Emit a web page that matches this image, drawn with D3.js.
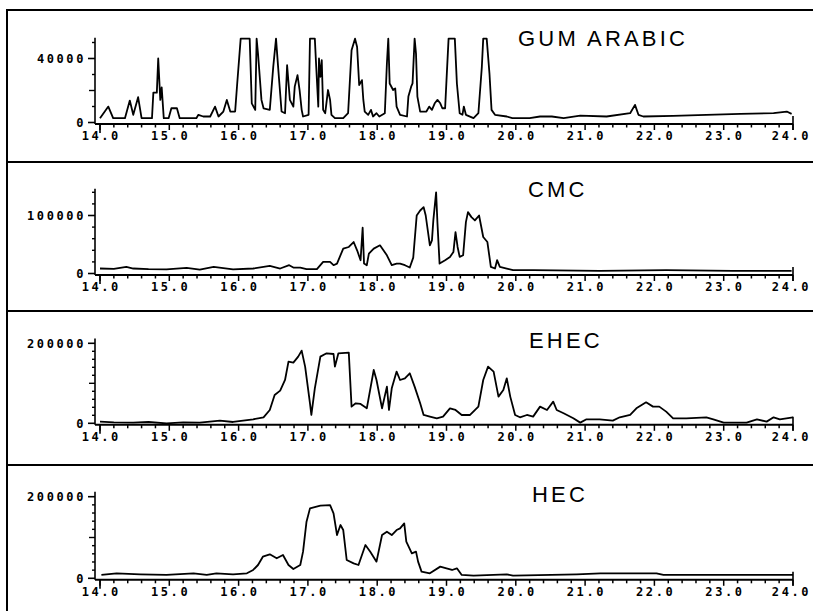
<!DOCTYPE html>
<html><head><meta charset="utf-8">
<script src="https://cdn.jsdelivr.net/npm/d3@7"></script>
<style>
html,body{margin:0;padding:0;background:#fff;}
svg{display:block;}
.tl{font-family:"DejaVu Sans Mono",monospace;font-weight:bold;font-size:12px;letter-spacing:2.6px;fill:#000;}
.tt{font-family:"Liberation Sans",Arial,sans-serif;font-size:22px;letter-spacing:3.2px;fill:#000;}
</style></head>
<body>
<svg id="c" width="813" height="611"></svg>
<script>
// ---------------- DATA ----------------
const titles = ["GUM ARABIC", "CMC", "EHEC", "HEC"];
const xTickValues = [14,15,16,17,18,19,20,21,22,23,24];
const xTickLabels = ["14.0","15.0","16.0","17.0","18.0","19.0","20.0","21.0","22.0","23.0","24.0"];
const yLabelValues = [40000, 100000, 200000, 200000];
const yLabelTexts = ["40000", "100000", "200000", "200000"];

const gumArabic = [
[14.00,2700],[14.12,9950],[14.19,2700],[14.36,2700],[14.43,13700],[14.48,4800],[14.55,15800],[14.60,2700],[14.75,2700],[14.77,18650],[14.82,18650],[14.84,40000],[14.87,14100],[14.89,22000],[14.92,2700],[14.99,2700],[15.03,8900],[15.11,8900],[15.15,2700],[15.39,2700],[15.42,4800],[15.49,3750],[15.59,3750],[15.66,9950],[15.71,3750],[15.78,6850],[15.83,14100],[15.88,6850],[15.95,6850],[15.98,24400],[16.03,52400],[16.16,52400],[16.19,12000],[16.24,7900],[16.26,52400],[16.28,43100],[16.33,14100],[16.36,8900],[16.45,7900],[16.50,34800],[16.54,52400],[16.57,34800],[16.62,6850],[16.67,5800],[16.70,35800],[16.74,14100],[16.79,9950],[16.81,22400],[16.85,29600],[16.88,20300],[16.91,7900],[16.93,3750],[17.01,4800],[17.03,52400],[17.10,52400],[17.12,34800],[17.15,9950],[17.16,40000],[17.18,28600],[17.20,38900],[17.22,7900],[17.25,5800],[17.29,20300],[17.32,14100],[17.34,4800],[17.39,2700],[17.51,2700],[17.58,5800],[17.63,45100],[17.68,52400],[17.71,47200],[17.74,23400],[17.78,26500],[17.80,14100],[17.82,6850],[17.87,4800],[17.91,7900],[17.94,3750],[17.99,5800],[18.03,3750],[18.11,5800],[18.14,36900],[18.16,52400],[18.18,24400],[18.23,20300],[18.26,21300],[18.28,9950],[18.33,4800],[18.43,3750],[18.45,16200],[18.49,22400],[18.51,24400],[18.54,52400],[18.56,43100],[18.58,16200],[18.62,6850],[18.71,6850],[18.75,9950],[18.79,7900],[18.83,12000],[18.87,14100],[18.91,12000],[18.94,8900],[18.98,8900],[19.00,26500],[19.03,52400],[19.12,52400],[19.15,24400],[19.19,5800],[19.23,4800],[19.25,9950],[19.28,4800],[19.39,2700],[19.46,5800],[19.51,34800],[19.53,52400],[19.58,52400],[19.62,30600],[19.65,7900],[19.70,4800],[19.87,3750],[19.95,2700],[20.20,2700],[20.35,3750],[20.52,3750],[20.69,2700],[20.93,4300],[21.31,3750],[21.65,5800],[21.72,11000],[21.77,4800],[21.84,3750],[22.27,4200],[22.75,4800],[23.24,5400],[23.72,5800],[23.91,6850],[23.98,5400]
];

const cmc = [
[14.00,8600],[14.20,8000],[14.38,11400],[14.48,8600],[14.70,7500],[14.96,7000],[15.25,9700],[15.44,6800],[15.64,11400],[15.92,7000],[16.21,8600],[16.45,13100],[16.60,8600],[16.73,14300],[16.79,10300],[16.89,10300],[16.98,7500],[17.13,7500],[17.22,20000],[17.32,20000],[17.37,14300],[17.42,17100],[17.51,42900],[17.59,45700],[17.66,54300],[17.71,40000],[17.76,22900],[17.79,78900],[17.81,17100],[17.85,14300],[17.88,34300],[17.95,42900],[18.04,48600],[18.14,31400],[18.21,14300],[18.28,17100],[18.33,17100],[18.40,14300],[18.47,10300],[18.52,27400],[18.57,100000],[18.62,108600],[18.67,114300],[18.70,100000],[18.76,48600],[18.79,57200],[18.81,91500],[18.85,140000],[18.87,85800],[18.90,17100],[18.98,22900],[19.05,28600],[19.10,37200],[19.13,71500],[19.16,45700],[19.19,28600],[19.24,31400],[19.28,88600],[19.31,105800],[19.36,97200],[19.41,91500],[19.47,100000],[19.53,62900],[19.59,54300],[19.64,11400],[19.70,8600],[19.73,22900],[19.77,11400],[19.87,8600],[19.96,5700],[20.25,5700],[21.21,4600],[22.17,5700],[23.13,4600],[23.98,4600]
];

const ehec = [
[14.00,4200],[14.20,2500],[14.48,1700],[14.70,3300],[14.96,0],[15.20,2500],[15.44,1700],[15.73,6700],[15.92,3300],[16.21,10000],[16.36,15000],[16.45,33300],[16.52,70800],[16.60,81700],[16.67,108300],[16.72,154200],[16.79,151700],[16.86,166700],[16.91,181700],[16.96,141700],[17.03,50000],[17.05,20800],[17.10,87500],[17.18,166700],[17.27,175000],[17.37,173300],[17.39,141700],[17.44,175000],[17.59,176700],[17.63,41700],[17.69,50000],[17.76,48300],[17.85,37500],[17.95,133300],[17.99,108300],[18.07,37500],[18.14,91700],[18.17,33300],[18.21,87500],[18.28,129200],[18.33,108300],[18.40,112500],[18.47,125000],[18.54,91700],[18.62,50000],[18.67,20800],[18.76,16700],[18.86,12500],[18.95,16700],[19.05,37500],[19.13,33300],[19.22,20800],[19.34,20800],[19.46,41700],[19.53,108300],[19.60,141700],[19.68,129200],[19.75,66700],[19.82,83300],[19.87,112500],[19.92,66700],[19.99,20800],[20.06,15000],[20.16,20800],[20.25,16700],[20.35,41700],[20.45,33300],[20.54,54200],[20.59,33300],[20.69,25000],[20.83,12500],[20.93,1700],[21.02,10000],[21.21,10000],[21.40,6700],[21.50,15000],[21.65,20800],[21.74,37500],[21.88,52500],[21.98,41700],[22.07,41700],[22.17,29200],[22.27,12500],[22.46,12500],[22.75,15000],[22.85,10000],[23.00,1700],[23.33,1700],[23.48,10000],[23.62,4200],[23.72,15000],[23.81,10000],[24.00,15000]
];

const hec = [
[14.02,8200],[14.24,12200],[14.58,9800],[14.96,8200],[15.35,12200],[15.54,8200],[15.68,12200],[15.92,9800],[16.12,12200],[16.21,20400],[16.28,32600],[16.35,53000],[16.45,58800],[16.55,49000],[16.64,57100],[16.72,32600],[16.79,22800],[16.89,32600],[16.93,65300],[16.98,138700],[17.03,171400],[17.18,177900],[17.32,179500],[17.37,159100],[17.42,106100],[17.47,130600],[17.51,118300],[17.56,44900],[17.66,36700],[17.73,32600],[17.83,81600],[17.90,65300],[17.99,40800],[18.07,106100],[18.14,114200],[18.21,106100],[18.28,118300],[18.33,122400],[18.39,134600],[18.42,89800],[18.50,61200],[18.56,65300],[18.59,40800],[18.64,16300],[18.76,12200],[18.91,28600],[19.00,24500],[19.08,20400],[19.15,24500],[19.22,8200],[19.39,6500],[19.87,9800],[19.96,6500],[20.88,9800],[21.22,12200],[22.03,12200],[22.13,8200],[23.13,8200],[24.00,8200]
];

const seriesList = [gumArabic, cmc, ehec, hec];
const axisTops = [53000, 146000, 212000, 212000];
const minorSteps = [10000, 20000, 20000, 20000];
const mediumValues = [20000, null, 100000, 100000];

// ---------------- LAYOUT ----------------
const W = 813, H = 611;
const zeroY = [122.5, 273.5, 423.3, 578.3];
const labelY = [58.5, 215.5, 343.3, 496.7];
const titleX = [518, 528, 529, 532];
const titleY = [46, 197, 348, 502];
const separators = [162, 311, 465];
const yAxisX = 95;

const svg = d3.select("#c");
const x = d3.scaleLinear().domain([14, 24]).range([100, 793]);

// frame
svg.append("path")
  .attr("d", `M7,${H+5} L7,10 L${W+5},10`)
  .attr("fill","none").attr("stroke","#000").attr("stroke-width",2);
separators.forEach(s => {
  svg.append("line").attr("x1",7).attr("x2",W+5).attr("y1",s).attr("y2",s)
    .attr("stroke","#000").attr("stroke-width",2);
});

seriesList.forEach((data, i) => {
  const g = svg.append("g");
  const y = d3.scaleLinear().domain([0, yLabelValues[i]]).range([zeroY[i], labelY[i]]);
  const axY = zeroY[i] + 1.5;

  // y axis line
  g.append("line").attr("x1",yAxisX).attr("x2",yAxisX)
    .attr("y1", axY).attr("y2", y(axisTops[i]))
    .attr("stroke","#000").attr("stroke-width",1.6);
  // minor ticks
  const minors = d3.range(minorSteps[i], axisTops[i], minorSteps[i]);
  minors.forEach(v => {
    let len = 3;
    if (mediumValues[i] !== null && Math.abs(v - mediumValues[i]) < 1) len = 6;
    if (Math.abs(v - yLabelValues[i]) < 1) return;
    g.append("line").attr("x1",yAxisX-len).attr("x2",yAxisX)
      .attr("y1",y(v)).attr("y2",y(v)).attr("stroke","#000").attr("stroke-width",1.4);
  });
  // labelled ticks
  [[0,"0"],[yLabelValues[i], yLabelTexts[i]]].forEach(([v, t]) => {
    g.append("line").attr("x1",yAxisX-7).attr("x2",yAxisX)
      .attr("y1",y(v)).attr("y2",y(v)).attr("stroke","#000").attr("stroke-width",1.6);
    g.append("text").attr("class","tl").attr("x",yAxisX-9).attr("y",y(v)+4.5)
      .attr("text-anchor","end").text(t);
  });

  // x axis line
  g.append("line").attr("x1",yAxisX).attr("x2",x(24))
    .attr("y1",axY).attr("y2",axY).attr("stroke","#000").attr("stroke-width",2);
  // minor x ticks
  d3.range(14, 24.001, 0.2).forEach(t => {
    const isMajor = Math.abs(t - Math.round(t)) < 1e-6;
    const len = isMajor ? 6 : 3.5;
    g.append("line").attr("x1",x(t)).attr("x2",x(t))
      .attr("y1",axY).attr("y2",axY+len).attr("stroke","#000").attr("stroke-width",1.5);
  });
  // end ticks
  g.append("line").attr("x1",x(24)).attr("x2",x(24)).attr("y1",axY-8).attr("y2",axY+6)
    .attr("stroke","#000").attr("stroke-width",1.6);
  g.append("line").attr("x1",x(14)).attr("x2",x(14)).attr("y1",axY).attr("y2",axY+9)
    .attr("stroke","#000").attr("stroke-width",1.6);
  // x tick labels
  xTickValues.forEach((t, k) => {
    const shift = (k === xTickValues.length - 1) ? -1.5 : 1.3;
    g.append("text").attr("class","tl").attr("x",x(t)+shift).attr("y",axY+16)
      .attr("text-anchor","middle").text(xTickLabels[k]);
  });

  // data line
  const line = d3.line().x(d => x(d[0])).y(d => y(d[1]));
  g.append("path").datum(data).attr("d", line)
    .attr("fill","none").attr("stroke","#000").attr("stroke-width",1.8)
    .attr("stroke-linejoin","round");

  // title
  g.append("text").attr("class","tt").attr("x",titleX[i]).attr("y",titleY[i]).text(titles[i]);
});
</script>
</body></html>
